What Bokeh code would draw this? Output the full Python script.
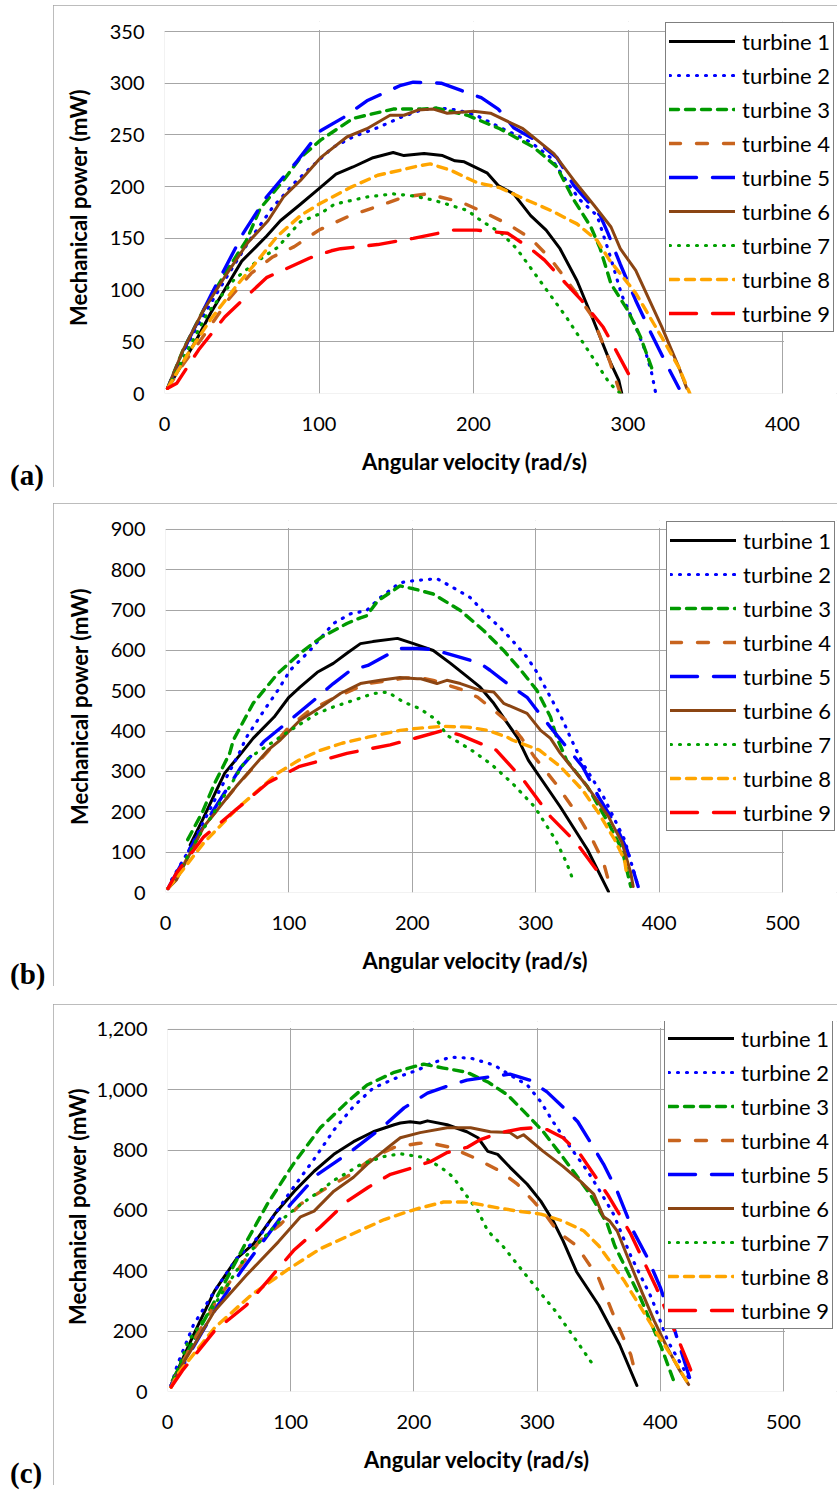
from bokeh.plotting import figure
from bokeh.models import (Range1d, Legend, LegendItem, BoxAnnotation, Div, Spacer,
                          FixedTicker, NumeralTickFormatter, Title)
from bokeh.layouts import column, row
from bokeh.embed import file_html
from bokeh.resources import INLINE

# ---------------- data: panel (a) ----------------
a1_x = [2, 10, 20, 30, 40, 50, 60, 66, 75, 88, 100, 111, 122, 135, 148, 155, 168, 180, 188, 194, 209, 216, 226, 237, 247, 256, 267, 277, 288, 294, 296]
a1_y = [5, 25, 50, 78, 103, 128, 143, 152, 167, 183, 198, 212, 219, 228, 233, 230, 232, 230, 225, 224, 213, 201, 193, 172, 158, 140, 109, 73, 32, 13, 0]
a2_x = [2, 12, 25, 40, 55, 70, 85, 95, 109, 122, 138, 153, 166, 178, 190, 203, 219, 237, 250, 263, 269, 280, 288, 296, 304, 311, 315, 318]
a2_y = [5, 40, 75, 112, 148, 180, 205, 219, 238, 248, 257, 267, 274, 276, 274, 268, 256, 243, 228, 199, 187, 172, 135, 95, 68, 42, 22, 0]
a3_x = [2, 12, 25, 40, 53, 62, 77, 88, 101, 122, 148, 166, 176, 196, 217, 239, 254, 265, 276, 282, 289, 300, 308, 316]
a3_y = [5, 42, 80, 118, 148, 179, 206, 228, 245, 266, 275, 275, 276, 269, 256, 238, 219, 187, 161, 140, 106, 80, 55, 22]
a4_x = [2, 12, 25, 42, 56, 70, 84, 100, 120, 140, 155, 170, 192, 207, 222, 237, 250, 265, 277, 288, 295]
a4_y = [5, 28, 55, 92, 116, 132, 142, 158, 172, 182, 190, 193, 185, 175, 164, 150, 130, 100, 74, 32, 0]
a5_x = [2, 15, 30, 51, 66, 86, 101, 116, 131, 153, 161, 179, 192, 205, 216, 226, 239, 254, 265, 282, 287, 295, 305, 315, 325, 333]
a5_y = [5, 50, 95, 155, 190, 225, 254, 267, 283, 298, 301, 300, 293, 286, 275, 257, 246, 228, 201, 172, 155, 125, 90, 58, 28, 5]
a6_x = [2, 12, 25, 40, 54, 67, 77, 88, 101, 118, 131, 146, 155, 164, 174, 183, 200, 211, 232, 252, 265, 278, 289, 295, 305, 322, 333, 338]
a6_y = [5, 42, 80, 115, 146, 167, 190, 206, 228, 248, 256, 269, 269, 274, 275, 271, 273, 271, 256, 232, 206, 182, 161, 140, 119, 64, 25, 5]
a7_x = [2, 15, 28, 45, 60, 73, 88, 101, 110, 131, 148, 161, 174, 196, 205, 218, 228, 243, 260, 274, 288, 295]
a7_y = [5, 42, 78, 110, 128, 141, 166, 174, 183, 190, 193, 191, 187, 177, 167, 155, 140, 109, 74, 42, 10, 0]
a8_x = [2, 15, 30, 46, 60, 73, 88, 101, 120, 138, 153, 164, 172, 185, 202, 217, 230, 250, 267, 280, 288, 305, 322, 333, 340]
a8_y = [5, 38, 72, 103, 128, 152, 172, 184, 199, 211, 216, 220, 222, 216, 204, 199, 190, 177, 164, 148, 129, 97, 54, 25, 0]
a9_x = [2, 8, 22, 39, 66, 94, 108, 114, 138, 153, 161, 187, 202, 222, 237, 246, 260, 270, 284, 291, 305]
a9_y = [5, 10, 42, 74, 112, 131, 138, 140, 144, 148, 150, 158, 158, 155, 140, 129, 106, 90, 64, 45, 6]

# ---------------- data: panel (b) ----------------
b1_x = [20, 30, 40, 48, 60, 71, 88, 100, 109, 123, 136, 147, 158, 168, 188, 201, 217, 231, 245, 255, 266, 277, 285, 294, 320, 342, 359]
b1_y = [118, 180, 245, 296, 340, 382, 435, 484, 509, 546, 568, 593, 617, 622, 630, 617, 600, 568, 534, 509, 469, 420, 385, 328, 212, 106, 2]
b2_x = [5, 20, 44, 61, 65, 80, 91, 101, 117, 136, 150, 163, 174, 190, 201, 220, 233, 247, 261, 271, 279, 293, 301, 312, 322, 328, 338, 355, 372, 383]
b2_y = [32, 110, 254, 353, 382, 452, 501, 551, 600, 667, 691, 699, 731, 768, 773, 778, 756, 731, 686, 657, 632, 583, 546, 484, 427, 385, 321, 237, 131, 15]
b3_x = [18, 30, 40, 52, 55, 71, 91, 109, 126, 147, 158, 163, 172, 190, 201, 217, 239, 258, 274, 288, 301, 312, 317, 325, 342, 359, 370, 377]
b3_y = [131, 200, 272, 345, 378, 469, 543, 593, 632, 667, 681, 686, 723, 760, 753, 740, 699, 649, 600, 551, 501, 435, 385, 328, 262, 172, 106, 15]
b4_x = [2, 10, 30, 57, 83, 100, 117, 136, 163, 180, 195, 210, 217, 242, 253, 266, 279, 288, 299, 316, 333, 346, 355, 361]
b4_y = [10, 40, 160, 262, 350, 410, 452, 481, 518, 525, 532, 530, 526, 501, 484, 452, 419, 385, 336, 271, 197, 131, 74, 7]
b5_x = [2, 9, 20, 39, 61, 80, 100, 120, 136, 150, 164, 182, 190, 204, 217, 239, 255, 263, 277, 293, 301, 314, 338, 351, 364, 374, 383]
b5_y = [10, 49, 110, 205, 310, 375, 425, 476, 518, 551, 563, 593, 605, 605, 602, 583, 568, 551, 518, 484, 452, 402, 312, 237, 172, 106, 15]
b6_x = [2, 9, 31, 57, 83, 93, 109, 126, 142, 158, 164, 174, 190, 204, 207, 220, 228, 239, 255, 266, 274, 293, 304, 312, 320, 342, 359, 370, 377, 379]
b6_y = [10, 32, 163, 262, 353, 378, 427, 460, 494, 518, 521, 526, 533, 530, 530, 518, 526, 518, 501, 497, 469, 444, 402, 382, 345, 262, 188, 123, 49, 15]
b7_x = [2, 10, 25, 39, 65, 101, 123, 136, 152, 168, 180, 193, 206, 220, 228, 247, 264, 281, 299, 316, 325, 331]
b7_y = [10, 45, 130, 197, 328, 402, 444, 460, 476, 493, 497, 472, 456, 427, 390, 355, 318, 271, 213, 131, 74, 25]
b8_x = [2, 10, 31, 57, 91, 108, 125, 143, 164, 190, 204, 225, 245, 261, 277, 281, 303, 320, 338, 351, 364, 372, 374]
b8_y = [10, 40, 123, 205, 296, 328, 352, 370, 385, 402, 407, 412, 410, 402, 385, 378, 353, 312, 254, 197, 131, 81, 40]
b9_x = [2, 9, 31, 57, 83, 108, 147, 182, 203, 225, 239, 268, 290, 312, 333, 351]
b9_y = [10, 49, 138, 205, 272, 312, 345, 366, 383, 402, 390, 353, 279, 188, 123, 49]

# ---------------- data: panel (c) ----------------
c1_x = [3, 21, 38, 56, 70, 87, 103, 119, 135, 151, 167, 184, 189, 197, 205, 211, 227, 243, 252, 260, 268, 278, 292, 303, 313, 321, 332, 350, 367, 381]
c1_y = [23, 187, 332, 440, 490, 588, 664, 730, 786, 828, 861, 884, 890, 894, 890, 897, 884, 861, 841, 796, 786, 743, 687, 631, 565, 500, 397, 286, 155, 20]
c2_x = [3, 8, 21, 38, 56, 76, 100, 119, 135, 151, 167, 189, 203, 214, 230, 246, 265, 278, 292, 303, 313, 327, 341, 351, 362, 376, 393, 406, 423]
c2_y = [20, 89, 220, 332, 440, 522, 664, 770, 866, 945, 1006, 1045, 1065, 1088, 1108, 1105, 1082, 1049, 1016, 960, 894, 809, 730, 664, 588, 450, 309, 168, 46]
c3_x = [4, 25, 47, 64, 81, 102, 124, 146, 162, 184, 203, 208, 224, 243, 260, 276, 292, 305, 321, 333, 343, 357, 363, 384, 401, 412]
c3_y = [36, 200, 365, 496, 621, 753, 874, 960, 1016, 1058, 1080, 1085, 1072, 1058, 1026, 983, 917, 861, 776, 710, 654, 555, 483, 309, 145, 23]
c4_x = [3, 20, 40, 60, 75, 92, 108, 130, 149, 167, 184, 203, 211, 230, 252, 270, 284, 297, 308, 317, 332, 350, 363, 376, 380]
c4_y = [20, 160, 300, 420, 500, 555, 621, 677, 720, 776, 809, 822, 825, 809, 769, 730, 687, 631, 579, 529, 483, 375, 243, 122, 56]
c5_x = [3, 20, 40, 60, 78, 100, 122, 149, 174, 192, 211, 230, 243, 260, 278, 294, 308, 325, 333, 343, 354, 365, 378, 390, 400, 410, 418, 425]
c5_y = [20, 140, 280, 400, 500, 621, 720, 796, 874, 940, 989, 1016, 1032, 1042, 1052, 1032, 993, 927, 894, 828, 753, 664, 532, 440, 345, 225, 120, 30]
c6_x = [3, 12, 38, 64, 90, 108, 119, 135, 151, 162, 179, 189, 205, 227, 246, 262, 278, 284, 289, 305, 321, 335, 346, 354, 359, 365, 375, 385, 395, 405, 415, 423]
c6_y = [15, 89, 266, 385, 496, 579, 598, 664, 710, 753, 809, 841, 858, 874, 874, 861, 858, 841, 851, 796, 746, 697, 654, 579, 565, 532, 430, 330, 235, 150, 75, 23]
c7_x = [3, 17, 38, 64, 90, 108, 124, 135, 146, 157, 176, 189, 203, 208, 222, 232, 240, 252, 260, 272, 293, 315, 332, 347]
c7_y = [15, 168, 286, 450, 560, 620, 665, 700, 725, 753, 779, 788, 779, 776, 743, 710, 664, 598, 532, 483, 375, 266, 168, 79]
c8_x = [3, 8, 38, 68, 99, 124, 149, 176, 189, 203, 224, 243, 265, 284, 303, 321, 338, 350, 371, 393, 410, 423]
c8_y = [15, 56, 210, 320, 408, 473, 520, 570, 588, 606, 628, 628, 611, 598, 588, 565, 532, 483, 365, 220, 112, 23]
c9_x = [3, 12, 38, 64, 81, 103, 124, 146, 163, 181, 200, 214, 227, 243, 254, 270, 287, 297, 308, 321, 335, 346, 357, 368, 376, 397, 415, 423, 428]
c9_y = [15, 69, 200, 286, 365, 470, 545, 631, 677, 720, 743, 763, 792, 809, 835, 858, 871, 874, 868, 841, 786, 720, 654, 579, 522, 342, 168, 89, 36]

names = ["turbine 1", "turbine 2", "turbine 3", "turbine 4", "turbine 5",
         "turbine 6", "turbine 7", "turbine 8", "turbine 9"]
x_ticks_a = [0, 100, 200, 300, 400]
y_ticks_a = [0, 50, 100, 150, 200, 250, 300, 350]
x_ticks_b = [0, 100, 200, 300, 400, 500]
y_ticks_b = [0, 100, 200, 300, 400, 500, 600, 700, 800, 900]
x_ticks_c = [0, 100, 200, 300, 400, 500]
y_ticks_c = [0, 200, 400, 600, 800, 1000, 1200]
x_title = "Angular velocity (rad/s)"
y_title = "Mechanical power (mW)"

# ---------------- styles ----------------
COLORS = ["#000000", "#0000FF", "#009A00", "#C8641E", "#0000FF",
          "#8B4513", "#00A000", "#FFA500", "#FF0000"]
DASHES = ["solid", "1 8", "9 7", "11 16", "27 16", "solid", "1 8", "9 7", "27 16"]
WIDTHS = [3, 3.2, 3.4, 3.4, 3.4, 3, 3.2, 3.4, 3.4]
FONT = "Lato"
GRID = "#A6A6A6"
FIG_X = 53
FIG_W = 784
XTITLE_W = 223   # approx. rendered width of the x title (px)


def make_panel(xs_list, ys_list, xticks, yticks, fig_y, fig_h,
               plot_box, frame_top, legend_lb, ylab_standoff):
    pl, pr, pt, pb = plot_box              # plot area, page px
    bl = pl - FIG_X
    bt = frame_top - fig_y
    bb = fig_y + fig_h - pb
    frame_w = FIG_W - bl
    frame_h = pb - frame_top
    xmax, ymax = xticks[-1], yticks[-1]
    x_end = xmax * frame_w / (pr - pl)
    y_end = ymax * frame_h / (pb - pt)

    p = figure(width=FIG_W, height=fig_h,
               x_range=Range1d(0, x_end), y_range=Range1d(0, y_end),
               output_backend="svg", toolbar_location=None,
               min_border_left=bl, min_border_right=0,
               min_border_top=bt, min_border_bottom=bb, margin=0)
    p.styles = {"outline": "1px solid #A6A6A6", "outline-offset": "-1px"}
    p.background_fill_color = "white"
    p.border_fill_color = "white"
    p.outline_line_color = None

    xt = FixedTicker(ticks=xticks)
    yt = FixedTicker(ticks=yticks)
    p.xaxis.ticker = xt
    p.yaxis.ticker = yt
    p.xgrid.ticker = xt
    p.ygrid.ticker = yt
    for g in (p.xgrid, p.ygrid):
        g.grid_line_color = GRID
        g.grid_line_width = 1
    p.yaxis.formatter = NumeralTickFormatter(format="0,0")
    p.yaxis.axis_label = y_title
    for ax in (p.xaxis[0], p.yaxis[0]):
        ax.axis_line_color = None
        ax.major_tick_line_color = None
        ax.minor_tick_line_color = None
        ax.major_tick_out = 0
        ax.major_tick_in = 0
        ax.minor_tick_out = 0
        ax.minor_tick_in = 0
        ax.major_label_text_font = FONT
        ax.major_label_text_font_size = "20px"
        ax.major_label_text_color = "#000000"
        ax.axis_label_text_font = FONT
        ax.axis_label_text_font_size = "22px"
        ax.axis_label_text_font_style = "bold"
        ax.axis_label_text_color = "#000000"
    p.xaxis.major_label_standoff = 23
    p.yaxis.major_label_standoff = 20
    p.yaxis.axis_label_standoff = ylab_standoff

    # x title centred under the 0..xmax plot area (frame is wider for the legend)
    centre = (pl + pr) / 2.0
    p.add_layout(Title(text=x_title, align="left",
                       offset=centre - XTITLE_W / 2.0 - pl,
                       text_font=FONT, text_font_size="22px",
                       text_font_style="bold", text_color="#000000",
                       standoff=25), "below")

    items = []
    for i in range(9):
        r = p.line(xs_list[i], ys_list[i], line_color=COLORS[i],
                   line_width=WIDTHS[i], line_dash=DASHES[i],
                   line_cap="round", line_join="round")
        items.append(LegendItem(label=names[i], renderers=[r]))

    # hide grid lines outside the plot area, then draw the plot-area border
    xpad = 1.5 * x_end / frame_w
    ypad = 1.5 * y_end / frame_h
    p.add_layout(BoxAnnotation(left=xmax + xpad, fill_color="white", fill_alpha=1,
                               line_color=None, level="guide"))
    p.add_layout(BoxAnnotation(bottom=ymax + ypad, fill_color="white", fill_alpha=1,
                               line_color=None, level="guide"))
    p.add_layout(BoxAnnotation(left=0, right=xmax, bottom=0, top=ymax,
                               fill_alpha=0, line_color=GRID, line_width=1,
                               level="annotation"))

    ll, lb = legend_lb
    leg = Legend(items=items, location=(ll - pl, pb - lb))
    leg.border_line_color = "#000000"
    leg.border_line_width = 1.5
    leg.background_fill_color = "white"
    leg.background_fill_alpha = 1
    leg.label_text_font = FONT
    leg.label_text_font_size = "22px"
    leg.label_text_color = "#000000"
    leg.glyph_width = 66
    leg.glyph_height = 30
    leg.label_height = 30
    leg.label_standoff = 7
    leg.spacing = 4
    leg.padding = 3
    leg.margin = 0
    p.add_layout(leg)
    return p


def tag_column(tag, fig_h):
    html = ('<div style="padding-left:10px;font-family:\'Liberation Serif\';'
            'font-weight:bold;font-size:29px;line-height:24px;color:#000;">'
            + tag + '</div>')
    lab = Div(text=html, width=FIG_X, height=24, margin=0)
    return column(Spacer(width=FIG_X, height=fig_h - 24, margin=0), lab,
                  spacing=0, margin=0)


# panel (a): figure occupies page y 5..487
pa = make_panel([a1_x, a2_x, a3_x, a4_x, a5_x, a6_x, a7_x, a8_x, a9_x],
                [a1_y, a2_y, a3_y, a4_y, a5_y, a6_y, a7_y, a8_y, a9_y],
                x_ticks_a, y_ticks_a, 5, 482, (164, 782, 31, 393), 21,
                (665, 332), 15)
# panel (b): page y 503..986
pb_ = make_panel([b1_x, b2_x, b3_x, b4_x, b5_x, b6_x, b7_x, b8_x, b9_x],
                 [b1_y, b2_y, b3_y, b4_y, b5_y, b6_y, b7_y, b8_y, b9_y],
                 x_ticks_b, y_ticks_b, 503, 483, (165, 782, 529, 893), 520,
                 (666, 832), 15)
# panel (c): page y 1004..1485
pc = make_panel([c1_x, c2_x, c3_x, c4_x, c5_x, c6_x, c7_x, c8_x, c9_x],
                [c1_y, c2_y, c3_y, c4_y, c5_y, c6_y, c7_y, c8_y, c9_y],
                x_ticks_c, y_ticks_c, 1004, 481, (167, 783, 1029, 1394), 1021,
                (664, 1332), 3)

layout = column(
    Spacer(width=837, height=5, margin=0),
    row(tag_column("(a)", 482), pa, spacing=0, margin=0),
    Spacer(width=837, height=16, margin=0),
    row(tag_column("(b)", 483), pb_, spacing=0, margin=0),
    Spacer(width=837, height=18, margin=0),
    row(tag_column("(c)", 481), pc, spacing=0, margin=0),
    spacing=0, margin=0)
open("out.html", "w").write(file_html(layout, INLINE))
